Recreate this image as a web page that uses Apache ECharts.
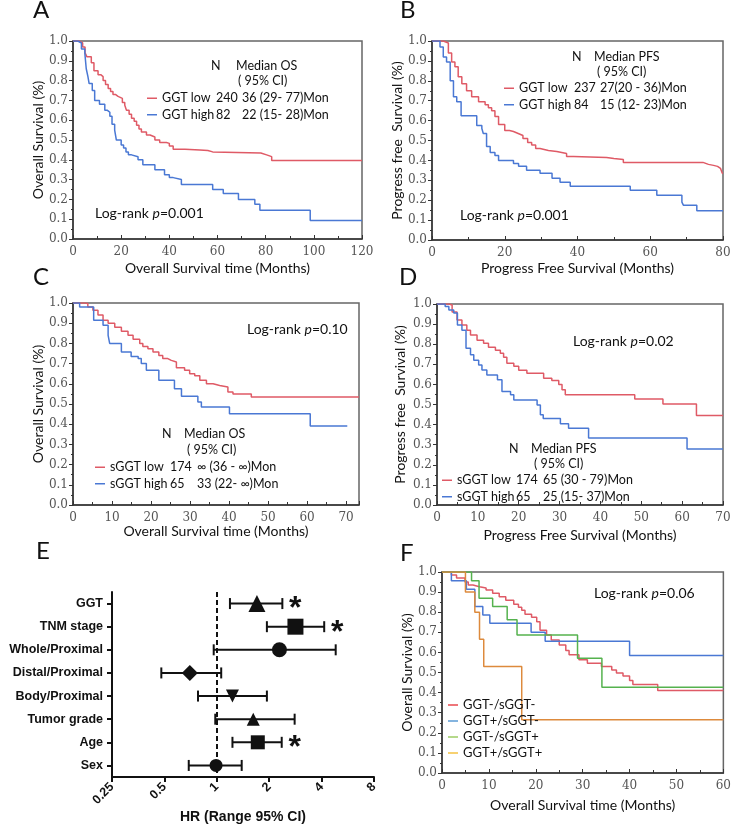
<!DOCTYPE html>
<html>
<head>
<meta charset="utf-8">
<title>GGT survival</title>
<script src="https://cdn.jsdelivr.net/npm/echarts@6/dist/echarts.min.js"></script>
<style>
html, body { margin: 0; padding: 0; background: #fff; }
#main { width: 734px; height: 825px; }
</style>
</head>
<body>
<div id="main"></div>
<script>
// A: overall survival by GGT  [month, survival]
var osGgtLow = [[0, 1], [2.8, 0.99], [4, 0.97], [5, 0.94], [5.8, 0.92], [7.6, 0.89], [8.7, 0.85], [10.4, 0.83], [11.5, 0.82], [12.5, 0.80], [13.5, 0.78], [14.6, 0.76], [15.6, 0.745], [16.6, 0.73], [17.6, 0.72], [18.7, 0.71], [20.5, 0.69], [21.5, 0.675], [22.2, 0.65], [23.3, 0.63], [24.3, 0.61], [25.4, 0.595], [26.4, 0.575], [27.4, 0.555], [28.4, 0.54], [30.5, 0.525], [32, 0.515], [34, 0.50], [36, 0.487], [38.8, 0.483], [40, 0.47], [41.6, 0.453], [46.5, 0.45], [52.7, 0.447], [56, 0.44], [58, 0.434], [78, 0.425], [80.4, 0.416], [82.5, 0.396], [120, 0.396]];
var osGgtHigh = [[0, 1], [2, 0.99], [3.5, 0.96], [4.9, 0.94], [5.5, 0.86], [6.2, 0.82], [6.7, 0.785], [8, 0.75], [9, 0.70], [11, 0.68], [13.2, 0.65], [14.3, 0.64], [15.3, 0.62], [16.2, 0.58], [17.3, 0.55], [18, 0.50], [20, 0.475], [21, 0.46], [22, 0.44], [23, 0.425], [24.3, 0.415], [27, 0.40], [29, 0.375], [34, 0.35], [38, 0.325], [40, 0.31], [41.6, 0.30], [45, 0.275], [58, 0.25], [62.4, 0.23], [68.7, 0.20], [75.5, 0.175], [77.6, 0.145], [98.5, 0.094], [120, 0.094]];

// B: progression free survival by GGT
var pfsGgtLow = [[0, 1], [3.1, 0.99], [4.5, 0.94], [5.4, 0.895], [6.3, 0.87], [7.2, 0.82], [8.2, 0.785], [9.5, 0.75], [10.9, 0.72], [12.8, 0.695], [14.6, 0.68], [15.5, 0.665], [16.4, 0.65], [17.3, 0.62], [18.3, 0.58], [20, 0.55], [21.3, 0.545], [22.4, 0.535], [23.7, 0.525], [25, 0.51], [26.3, 0.49], [27.4, 0.477], [28.5, 0.46], [29.7, 0.45], [32, 0.445], [34.3, 0.435], [37, 0.42], [38.9, 0.415], [48, 0.41], [50, 0.405], [52.6, 0.39], [74.5, 0.38], [76, 0.375], [77.4, 0.37], [78.5, 0.36], [79.3, 0.35], [79.8, 0.335], [80, 0.335]];
var pfsGgtHigh = [[0, 1], [2.2, 0.97], [3.1, 0.92], [4, 0.895], [5, 0.80], [5.9, 0.72], [6.8, 0.695], [8, 0.625], [12.3, 0.575], [13.7, 0.56], [14.1, 0.535], [15, 0.47], [16, 0.44], [17.3, 0.425], [18.3, 0.40], [22.4, 0.385], [23.8, 0.37], [26, 0.35], [29.7, 0.335], [33, 0.31], [35.2, 0.29], [38, 0.27], [54.5, 0.25], [61.8, 0.225], [68.7, 0.19], [69.1, 0.175], [72.8, 0.147], [80, 0.147]];

// C: overall survival by sGGT
var osSggtLow = [[0, 1], [3, 0.997], [3.8, 0.98], [5.1, 0.964], [6.4, 0.94], [7.7, 0.915], [9, 0.90], [10.7, 0.88], [12.4, 0.86], [14.1, 0.84], [15.4, 0.82], [17.1, 0.80], [17.9, 0.785], [19.2, 0.774], [20.5, 0.757], [22, 0.74], [23, 0.725], [24.3, 0.716], [25.2, 0.708], [26.5, 0.68], [28.6, 0.667], [29.9, 0.65], [31.2, 0.64], [32.5, 0.617], [34.2, 0.60], [35.9, 0.592], [37.6, 0.584], [39.7, 0.56], [41, 0.55], [45.7, 0.535], [73.3, 0.535]];
var osSggtHigh = [[0, 1], [1.7, 0.98], [5.3, 0.915], [7.7, 0.89], [9, 0.84], [9.4, 0.80], [12.4, 0.757], [14.9, 0.735], [16.7, 0.725], [17.5, 0.70], [18.8, 0.667], [22, 0.617], [26, 0.576], [27.8, 0.538], [32, 0.51], [32.9, 0.485], [40.1, 0.452], [60.8, 0.391], [70.3, 0.391]];

// D: progression free survival by sGGT
var pfsSggtLow = [[0, 1], [2.9, 0.995], [3.7, 0.96], [4.9, 0.92], [6.1, 0.895], [7.3, 0.87], [8.2, 0.846], [9.8, 0.82], [11.4, 0.805], [12.6, 0.785], [14.3, 0.77], [15.5, 0.755], [16.3, 0.735], [17.1, 0.705], [18.8, 0.69], [20, 0.67], [22, 0.655], [26.1, 0.63], [28.1, 0.62], [29.8, 0.60], [30.6, 0.573], [31.4, 0.548], [48.4, 0.527], [55.3, 0.503], [63.5, 0.445], [70, 0.445]];
var pfsSggtHigh = [[0, 1], [2, 0.987], [2.9, 0.97], [4.1, 0.955], [5, 0.895], [6.1, 0.87], [7.1, 0.78], [8.2, 0.747], [9, 0.72], [10.2, 0.697], [11, 0.672], [12.2, 0.647], [14.8, 0.623], [15.9, 0.565], [18, 0.548], [18.8, 0.523], [24.5, 0.498], [25.3, 0.449], [26, 0.43], [30.2, 0.404], [32.2, 0.382], [37.1, 0.333], [61.2, 0.278], [70, 0.278]];

// F: overall survival by combined GGT / sGGT
var osNegNeg = [[0, 1], [1, 1], [2, 0.985], [3.1, 0.97], [4.9, 0.95], [5.6, 0.935], [6.6, 0.927], [8, 0.92], [9.4, 0.91], [10.8, 0.894], [12.2, 0.877], [13.6, 0.86], [15.3, 0.84], [16.3, 0.825], [17, 0.81], [17.7, 0.79], [19.1, 0.775], [20.2, 0.753], [20.9, 0.71], [22.3, 0.687], [23.3, 0.662], [25, 0.637], [26.4, 0.61], [27.1, 0.588], [29.2, 0.563], [31, 0.546], [34, 0.53], [36.2, 0.513], [37.2, 0.497], [38.6, 0.483], [40, 0.46], [40.7, 0.44], [46, 0.411], [60, 0.411]];
var osPosNeg = [[0, 1], [2, 0.957], [5.2, 0.914], [7, 0.828], [8.7, 0.786], [10.2, 0.745], [19, 0.70], [22, 0.655], [40, 0.585], [60, 0.585]];
var osNegPos = [[0, 1], [6.3, 0.957], [7.9, 0.87], [10.8, 0.828], [13.9, 0.762], [16, 0.687], [28.9, 0.571], [34.1, 0.427], [60, 0.427]];
var osPosPos = [[0, 1], [5, 0.90], [7, 0.80], [8, 0.666], [8.9, 0.53], [17, 0.265], [60, 0.265]];

// E: forest plot
var forestLabels = ['GGT', 'TNM stage', 'Whole/Proximal', 'Distal/Proximal', 'Body/Proximal', 'Tumor grade', 'Age', 'Sex'];
var hrValue = [1.70, 2.83, 2.29, 0.70, 1.23, 1.62, 1.72, 0.99];
var ciLow = [1.19, 1.94, 0.96, 0.48, 0.78, 0.98, 1.23, 0.69];
var ciHigh = [2.38, 4.14, 4.82, 1.06, 1.94, 2.80, 2.36, 1.39];
var significant = [1, 1, 0, 0, 0, 0, 1, 0];
var hrTicks = [0.25, 0.5, 1, 2, 4, 8];

// marker style for each forest row
var markerSymbols = ['triangle', 'rect', 'circle', 'diamond', 'triangle', 'triangle', 'rect', 'circle'];
var markerRotate = [0, 0, 0, 0, 180, 0, 0, 0];
var markerSize = [17, 16, 15, 16, 13, 13, 14, 13];

var RED = '#df5a66';
var BLUE = '#4a78d4';
var SANS = 'Lato';
var SERIF = 'DejaVu Serif';

// legend texts (name -> columns)
var legendText = {
    'GGT low (OS)': ['GGT low', '240', '36 (29- 77)Mon'],
    'GGT high (OS)': ['GGT high', '82', '22 (15- 28)Mon'],
    'GGT low (PFS)': ['GGT low', '237', '27(20 - 36)Mon'],
    'GGT high (PFS)': ['GGT high', '84', '15 (12- 23)Mon'],
    'sGGT low (OS)': ['sGGT low', '174', '\u221e (36 - \u221e)Mon'],
    'sGGT high (OS)': ['sGGT high', '65', '33 (22- \u221e)Mon'],
    'sGGT low (PFS)': ['sGGT low', '174', '65 (30 - 79)Mon'],
    'sGGT high (PFS)': ['sGGT high', '65', '25 (15- 37)Mon']
};

var chart = echarts.init(document.getElementById('main'));

function kmX(i, max, interval, name, gap) {
    return {
        type: 'value', gridIndex: i, min: 0, max: max, interval: interval,
        name: name, nameLocation: 'middle', nameGap: gap,
        nameTextStyle: {fontFamily: SANS, fontSize: 14, color: '#111'},
        axisLine: {show: true, onZero: false, lineStyle: {color: '#333', width: 1.5}},
        axisTick: {show: true, inside: true, length: 4, lineStyle: {color: '#333'}},
        minorTick: {show: true, splitNumber: 2, length: 3, lineStyle: {color: '#333'}},
        axisLabel: {fontFamily: SERIF, fontSize: 12, color: '#555', margin: 7, showMaxLabel: max % interval === 0},
        splitLine: {show: false}
    };
}

function kmY(i, name, gap) {
    return {
        type: 'value', gridIndex: i, min: 0, max: 1, interval: 0.1,
        name: name, nameLocation: 'middle', nameGap: gap,
        nameTextStyle: {fontFamily: SANS, fontSize: 14, color: '#111'},
        axisLine: {show: true, lineStyle: {color: '#333', width: 1.5}},
        axisTick: {show: true, length: 4, lineStyle: {color: '#333'}},
        minorTick: {show: true, splitNumber: 2, length: 2, lineStyle: {color: '#333'}},
        axisLabel: {fontFamily: SERIF, fontSize: 12, color: '#555', margin: 5,
            formatter: function (v) { return v.toFixed(1); }},
        splitLine: {show: false}
    };
}

function km(i, name, data, color) {
    return {
        name: name, type: 'line', xAxisIndex: i, yAxisIndex: i,
        step: 'end', showSymbol: false, symbol: 'none', data: data,
        lineStyle: {color: color, width: 1.5}, itemStyle: {color: color},
        animation: false
    };
}

function kmLegend(left, top, names, w1, w2) {
    return {
        orient: 'vertical', left: left, top: top, padding: 0, icon: 'rect',
        itemWidth: 10, itemHeight: 1.5, itemGap: 1, selectedMode: false,
        data: names,
        formatter: function (n) {
            var t = legendText[n];
            return '{a|' + t[0] + '}{b|' + t[1] + '}{c|' + t[2] + '}';
        },
        textStyle: {
            fontFamily: SANS, fontSize: 12.5, color: '#111', lineHeight: 15.5,
            rich: {
                a: {width: w1, fontFamily: SANS, fontSize: 12.5},
                b: {width: w2, fontFamily: SANS, fontSize: 12.5},
                c: {fontFamily: SANS, fontSize: 12.5}
            }
        }
    };
}

function txt(x, y, s, size) {
    return {
        type: 'text', x: x, y: y, silent: true,
        style: {text: s, fontFamily: SANS, fontSize: size || 12.5, fill: '#111', align: 'left', verticalAlign: 'middle'}
    };
}

function logRank(x, y, p) {
    return {
        type: 'text', x: x, y: y, silent: true,
        style: {
            text: '{n|Log-rank }{i|p}{n|=' + p + '}',
            verticalAlign: 'middle',
            rich: {
                n: {fontFamily: SANS, fontSize: 14, fill: '#111'},
                i: {fontFamily: SANS, fontSize: 14, fontStyle: 'italic', fill: '#111'}
            }
        }
    };
}

var kmBorder = {show: true, borderColor: '#666', borderWidth: 1.5, backgroundColor: 'transparent'};

var option = {
    animation: false,
    backgroundColor: '#fff',
    grid: [
        Object.assign({left: 73, top: 41, width: 289, height: 198}, kmBorder),
        Object.assign({left: 432, top: 41, width: 291, height: 199}, kmBorder),
        Object.assign({left: 73, top: 303, width: 286, height: 202}, kmBorder),
        Object.assign({left: 437, top: 304, width: 286, height: 201}, kmBorder),
        {left: 112, top: 592, width: 262, height: 185},
        Object.assign({left: 442, top: 572, width: 288, height: 201}, kmBorder)
    ],
    xAxis: [
        kmX(0, 120, 20, 'Overall Survival time (Months)', 22),
        kmX(1, 80, 20, 'Progress Free Survival (Months)', 21),
        kmX(2, 73.3, 10, 'Overall Survival time (Months)', 17),
        kmX(3, 70, 10, 'Progress Free Survival (Months)', 23),
        {
            type: 'log', logBase: 2, gridIndex: 4, min: 0.25, max: 8,
            name: 'HR (Range 95% CI)', nameLocation: 'middle', nameGap: 29,
            nameTextStyle: {fontFamily: 'Liberation Sans', fontWeight: 'bold', fontSize: 14, color: '#111'},
            axisLine: {show: true, onZero: false, lineStyle: {color: '#111', width: 2}},
            axisTick: {show: true, length: 5, lineStyle: {color: '#111', width: 2}},
            axisLabel: {
                rotate: 45, fontFamily: 'Liberation Sans', fontWeight: 'bold', fontSize: 12.5, color: '#111', margin: 8,
                formatter: function (v) {
                    var best = hrTicks[0];
                    hrTicks.forEach(function (t) { if (Math.abs(t - v) < Math.abs(best - v)) best = t; });
                    return String(best);
                }
            },
            splitLine: {show: false}
        },
        kmX(5, 60, 10, 'Overall Survival time (Months)', 25)
    ],
    yAxis: [
        kmY(0, 'Overall Survival (%)', 28),
        kmY(1, 'Progress free  Survival (%)', 25),
        kmY(2, 'Overall Survival (%)', 28),
        kmY(3, 'Progress free  Survival (%)', 30),
        {
            type: 'category', gridIndex: 4, data: forestLabels, inverse: true,
            axisLine: {show: true, lineStyle: {color: '#111', width: 2}},
            axisTick: {show: true, alignWithLabel: true, length: 5, lineStyle: {color: '#111', width: 2}},
            axisLabel: {fontFamily: 'Liberation Sans', fontWeight: 'bold', fontSize: 12.5, color: '#111', margin: 9},
            splitLine: {show: false}
        },
        kmY(5, 'Overall Survival (%)', 28)
    ],
    legend: [
        kmLegend(147, 90.5, ['GGT low (OS)', 'GGT high (OS)'], 54, 26),
        kmLegend(504, 80.5, ['GGT low (PFS)', 'GGT high (PFS)'], 55, 26),
        kmLegend(95, 459.5, ['sGGT low (OS)', 'sGGT high (OS)'], 60, 27),
        kmLegend(442, 472.5, ['sGGT low (PFS)', 'sGGT high (PFS)'], 59, 27),
        {
            orient: 'vertical', left: 448, top: 697.5, padding: 0, icon: 'rect',
            itemWidth: 10, itemHeight: 1.5, itemGap: 1, selectedMode: false,
            data: [
                {name: 'GGT-/sGGT-', itemStyle: {color: '#e8484e'}},
                {name: 'GGT+/sGGT-', itemStyle: {color: '#5b9bd5'}},
                {name: 'GGT-/sGGT+', itemStyle: {color: '#9ccc65'}},
                {name: 'GGT+/sGGT+', itemStyle: {color: '#f5c242'}}
            ],
            textStyle: {fontFamily: SANS, fontSize: 13, color: '#111', lineHeight: 15}
        }
    ],
    graphic: [
        txt(33, 10, 'A', 24), txt(400, 10, 'B', 24),
        txt(33, 277, 'C', 24), txt(399, 277, 'D', 24),
        txt(36, 551, 'E', 24), txt(400, 553, 'F', 24),
        txt(211, 66, 'N'), txt(236, 66, 'Median OS'), txt(238, 81, '( 95% CI)'),
        txt(572, 57, 'N'), txt(594, 57, 'Median PFS'), txt(597, 72, '( 95% CI)'),
        txt(162, 434, 'N'), txt(184, 434, 'Median OS'), txt(187, 450, '( 95% CI)'),
        txt(509, 449, 'N'), txt(531, 449, 'Median PFS'), txt(534, 464, '( 95% CI)'),
        logRank(95, 213, '0.001'), logRank(460, 215, '0.001'),
        logRank(247, 329, '0.10'), logRank(573, 341, '0.02'),
        logRank(594, 593, '0.06')
    ],
    series: [
        km(0, 'GGT low (OS)', osGgtLow, RED),
        km(0, 'GGT high (OS)', osGgtHigh, BLUE),
        km(1, 'GGT low (PFS)', pfsGgtLow, RED),
        km(1, 'GGT high (PFS)', pfsGgtHigh, BLUE),
        km(2, 'sGGT low (OS)', osSggtLow, RED),
        km(2, 'sGGT high (OS)', osSggtHigh, BLUE),
        km(3, 'sGGT low (PFS)', pfsSggtLow, RED),
        km(3, 'sGGT high (PFS)', pfsSggtHigh, BLUE),
        km(5, 'GGT-/sGGT-', osNegNeg, RED),
        km(5, 'GGT+/sGGT-', osPosNeg, BLUE),
        km(5, 'GGT-/sGGT+', osNegPos, '#55b24e'),
        km(5, 'GGT+/sGGT+', osPosPos, '#dd8a3c'),
        {
            // 95% CI bars with caps, asterisk when significant
            type: 'custom', xAxisIndex: 4, yAxisIndex: 4, silent: true,
            data: forestLabels.map(function (l, i) { return [ciLow[i], i, ciHigh[i], significant[i]]; }),
            encode: {x: [0, 2], y: 1},
            renderItem: function (params, api) {
                var lo = api.coord([api.value(0), api.value(1)]);
                var hi = api.coord([api.value(2), api.value(1)]);
                var h = 5.5;
                var st = {stroke: '#111', lineWidth: 2};
                var kids = [
                    {type: 'line', shape: {x1: lo[0], y1: lo[1], x2: hi[0], y2: hi[1]}, style: st},
                    {type: 'line', shape: {x1: lo[0], y1: lo[1] - h, x2: lo[0], y2: lo[1] + h}, style: st},
                    {type: 'line', shape: {x1: hi[0], y1: hi[1] - h, x2: hi[0], y2: hi[1] + h}, style: st}
                ];
                if (api.value(3)) {
                    kids.push({
                        type: 'text',
                        style: {text: '*', x: hi[0] + 13, y: hi[1] + 6, fontFamily: 'Liberation Sans', fontWeight: 'bold',
                            fontSize: 32, fill: '#111', align: 'center', verticalAlign: 'middle'}
                    });
                }
                return {type: 'group', children: kids};
            }
        },
        {
            type: 'scatter', xAxisIndex: 4, yAxisIndex: 4, z: 5, silent: true,
            data: forestLabels.map(function (l, i) {
                return {value: [hrValue[i], i], symbol: markerSymbols[i], symbolRotate: markerRotate[i], symbolSize: markerSize[i]};
            }),
            itemStyle: {color: '#111', opacity: 1},
            markLine: {
                silent: true, symbol: ['none', 'none'], label: {show: false},
                lineStyle: {color: '#111', type: [5, 3], width: 2},
                data: [{xAxis: 1}]
            }
        }
    ]
};

chart.setOption(option);
</script>
</body>
</html>
